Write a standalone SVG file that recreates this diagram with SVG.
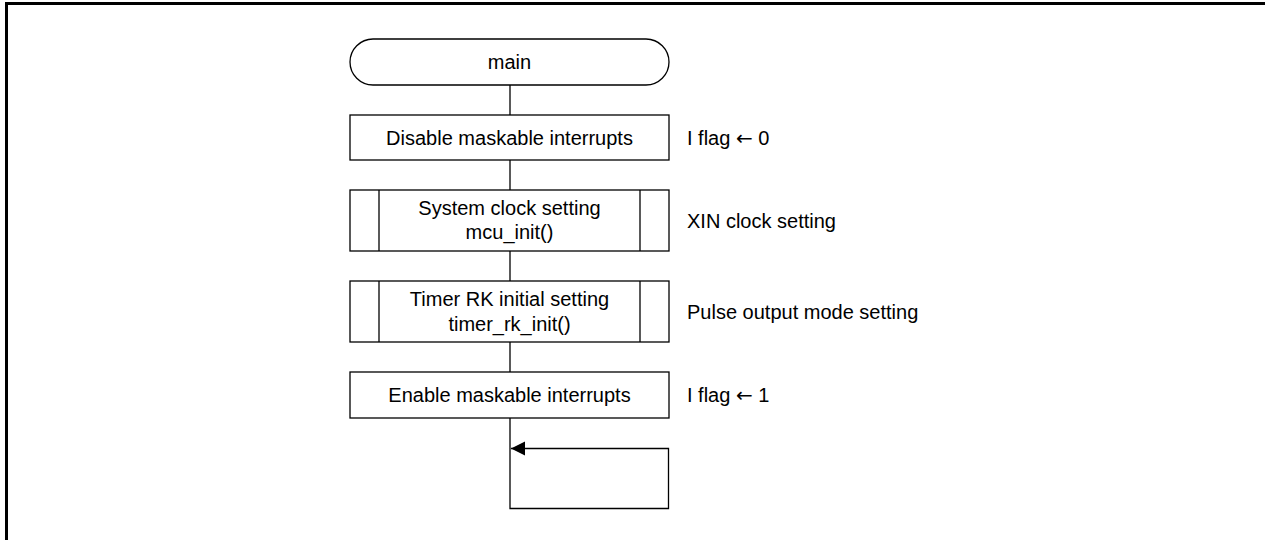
<svg xmlns="http://www.w3.org/2000/svg" width="1265" height="540" viewBox="0 0 1265 540">
  <style>
    .shape { fill: #ffffff; stroke: #000000; stroke-width: 1.3; }
    .line { fill: none; stroke: #000000; stroke-width: 1.3; }
    .frame { fill: none; stroke: #000000; stroke-width: 3; }
    text { font-family: "Liberation Sans", Arial, sans-serif; font-size: 20px; fill: #000000; }
    .c { text-anchor: middle; }
    .note { text-anchor: start; }
    .arr { font-family: "DejaVu Sans", sans-serif; }
  </style>
  <defs>
    <marker id="arrow" markerUnits="userSpaceOnUse" markerWidth="16" markerHeight="16" refX="14" refY="7" orient="auto">
      <path d="M0,0 L14,7 L0,14 Z" fill="#000000"/>
    </marker>
  </defs>
  <rect x="0" y="0" width="1265" height="540" fill="#ffffff"/>
  <path class="frame" d="M6.5,540 V3.5 H1265"/>

  <g id="connectors">
    <line class="line" x1="510" y1="85" x2="510" y2="115"/>
    <line class="line" x1="510" y1="160" x2="510" y2="190"/>
    <line class="line" x1="510" y1="251" x2="510" y2="281"/>
    <line class="line" x1="510" y1="342" x2="510" y2="372"/>
    <path class="line" d="M510,418 V508.5 H668.5 V448.5 H511" marker-end="url(#arrow)"/>
  </g>

  <g id="node-main">
    <rect class="shape" x="350" y="39" width="319" height="46" rx="23" ry="23"/>
    <text class="c" x="509.5" y="69">main</text>
  </g>

  <g id="node-disable">
    <rect class="shape" x="350" y="115" width="319" height="45"/>
    <text class="c" x="509.5" y="144.5">Disable maskable interrupts</text>
    <text class="note" x="687" y="144.5">I flag <tspan class="arr">←</tspan> 0</text>
  </g>

  <g id="node-sysclock">
    <rect class="shape" x="350" y="190" width="319" height="61"/>
    <line class="line" x1="379" y1="190" x2="379" y2="251"/>
    <line class="line" x1="640" y1="190" x2="640" y2="251"/>
    <text class="c" x="509.5" y="215">System clock setting</text>
    <text class="c" x="509.5" y="239">mcu_init()</text>
    <text class="note" x="687" y="228">XIN clock setting</text>
  </g>

  <g id="node-timer">
    <rect class="shape" x="350" y="281" width="319" height="61"/>
    <line class="line" x1="379" y1="281" x2="379" y2="342"/>
    <line class="line" x1="640" y1="281" x2="640" y2="342"/>
    <text class="c" x="509.5" y="306">Timer RK initial setting</text>
    <text class="c" x="509.5" y="330.5">timer_rk_init()</text>
    <text class="note" x="687" y="318.5">Pulse output mode setting</text>
  </g>

  <g id="node-enable">
    <rect class="shape" x="350" y="372" width="319" height="46"/>
    <text class="c" x="509.5" y="402">Enable maskable interrupts</text>
    <text class="note" x="687" y="402">I flag <tspan class="arr">←</tspan> 1</text>
  </g>
</svg>
